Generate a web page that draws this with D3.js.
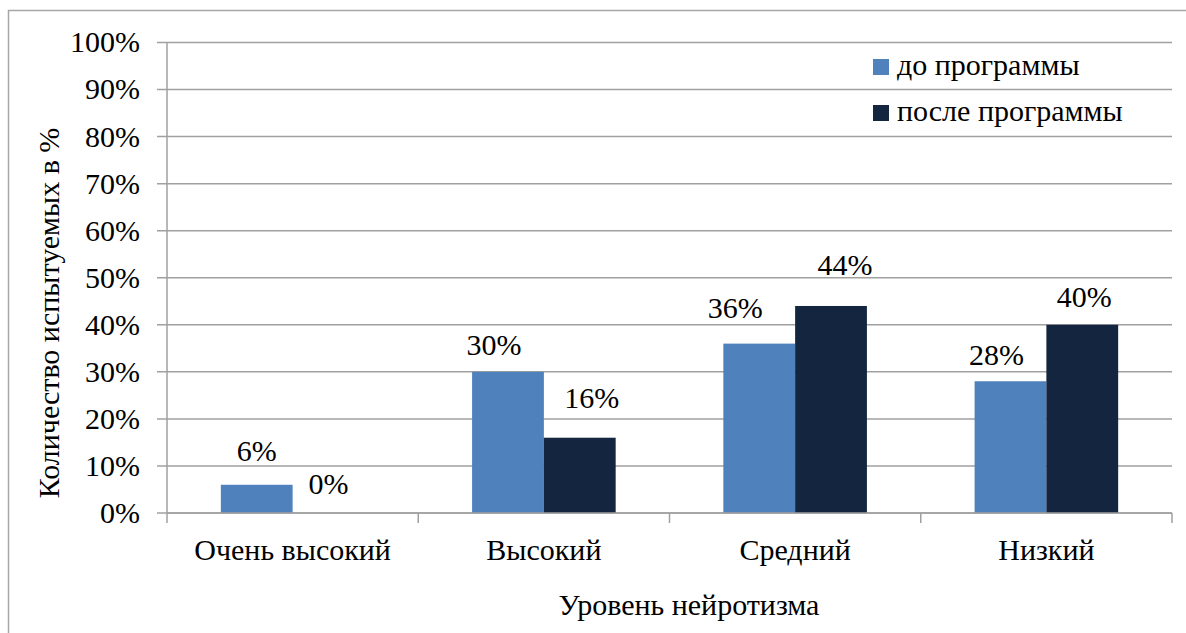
<!DOCTYPE html>
<html>
<head>
<meta charset="utf-8">
<script src="https://cdn.jsdelivr.net/npm/d3@7"></script>
<style>
  svg text { font-family: "Liberation Serif", "Tinos", "Times New Roman", "DejaVu Serif" !important; }
</style>
</head>
<body style="margin:0; background:#fff">
<div id="mainDiv"></div>
<script>
// Data
let categories = ["Очень высокий", "Высокий", "Средний", "Низкий"];
let seriesNames = ["до программы", "после программы"];
let beforeValues = [6, 30, 36, 28];
let afterValues = [0, 16, 44, 40];
let yTicks = [0, 10, 20, 30, 40, 50, 60, 70, 80, 90, 100];

// manual label nudges (dx, dy above bar top), like in the original
let labelNudges = [
  [[0, 24], [0, 19]],
  [[-14, 17], [12, 30]],
  [[-24, 26], [14, 31]],
  [[-14, 16], [2, 18]]
];

let colors = ["#4f81bd", "#13253f"];
let gridColor = "#a0a0a0";
let fontSize = 30;

let chartSize = {
  width: 1186,
  height: 633,
  margin: { top: 42.5, right: 14, bottom: 120, left: 167 }
};

createChart();

function serifText(sel) {
  return sel
    .attr("font-family", "Liberation Serif")
    .attr("font-size", fontSize)
    .attr("fill", "#000");
}

function createChart() {
  let plotBottom = chartSize.height - chartSize.margin.bottom;
  let plotRight = chartSize.width - chartSize.margin.right;

  const svg = d3.select("#mainDiv")
    .append("svg")
    .attr("width", chartSize.width)
    .attr("height", chartSize.height)
    .style("display", "block");

  // outer frame (right and bottom edges fall outside the picture)
  svg.append("rect")
    .attr("x", 8.5).attr("y", 10.5)
    .attr("width", 1300).attr("height", 800)
    .attr("fill", "none")
    .attr("stroke", "#a6a6a6")
    .attr("stroke-width", 1.5);

  let x0 = d3.scaleBand()
    .domain(categories)
    .range([chartSize.margin.left, plotRight])
    .padding(0);

  let bw = x0.bandwidth();
  let x1 = d3.scaleBand()
    .domain(seriesNames)
    .range([bw * 0.75 / 3.5, bw * 2.75 / 3.5])
    .padding(0);

  let y = d3.scaleLinear()
    .domain([0, 100])
    .range([plotBottom, chartSize.margin.top]);

  // gridlines with small ticks to the left
  svg.append("g")
    .selectAll("line")
    .data(yTicks)
    .join("line")
    .attr("x1", chartSize.margin.left - 10)
    .attr("x2", plotRight)
    .attr("y1", d => y(d))
    .attr("y2", d => y(d))
    .attr("stroke", gridColor)
    .attr("stroke-width", 1.5);

  svg.append("g")
    .selectAll("text")
    .data(yTicks)
    .join("text")
    .call(serifText)
    .attr("x", 140)
    .attr("y", d => y(d))
    .attr("dy", "0.33em")
    .attr("text-anchor", "end")
    .text(d => d + "%");

  // bars
  let groups = svg.append("g")
    .selectAll("g")
    .data(categories)
    .join("g")
    .attr("transform", d => `translate(${x0(d)},0)`);

  groups.selectAll("rect")
    .data((d, i) => [
      { s: seriesNames[0], v: beforeValues[i], k: 0 },
      { s: seriesNames[1], v: afterValues[i], k: 1 }
    ])
    .join("rect")
    .attr("x", d => x1(d.s))
    .attr("y", d => y(d.v))
    .attr("width", x1.bandwidth())
    .attr("height", d => y(0) - y(d.v))
    .attr("fill", d => colors[d.k]);

  // value labels
  groups.selectAll("text")
    .data((d, i) => [
      { s: seriesNames[0], v: beforeValues[i], n: labelNudges[i][0] },
      { s: seriesNames[1], v: afterValues[i], n: labelNudges[i][1] }
    ])
    .join("text")
    .call(serifText)
    .attr("x", d => x1(d.s) + x1.bandwidth() / 2 + d.n[0])
    .attr("y", d => y(d.v) - d.n[1])
    .attr("text-anchor", "middle")
    .text(d => d.v + "%");

  // category labels
  svg.append("g")
    .selectAll("text")
    .data(categories)
    .join("text")
    .call(serifText)
    .attr("x", d => x0(d) + bw / 2)
    .attr("y", 560)
    .attr("text-anchor", "middle")
    .text(d => d);

  // axis lines and category boundary ticks
  let axisLines = svg.append("g").attr("stroke", gridColor).attr("stroke-width", 1.5);
  axisLines.append("line")
    .attr("x1", chartSize.margin.left).attr("x2", plotRight)
    .attr("y1", plotBottom).attr("y2", plotBottom);
  axisLines.append("line")
    .attr("x1", chartSize.margin.left).attr("x2", chartSize.margin.left)
    .attr("y1", chartSize.margin.top).attr("y2", plotBottom + 10);
  axisLines.selectAll(".bt")
    .data(categories)
    .join("line")
    .attr("class", "bt")
    .attr("x1", d => x0(d) + bw)
    .attr("x2", d => x0(d) + bw)
    .attr("y1", plotBottom)
    .attr("y2", plotBottom + 10);

  // axis titles
  svg.append("text")
    .call(serifText)
    .attr("x", 689)
    .attr("y", 615)
    .attr("text-anchor", "middle")
    .text("Уровень нейротизма");

  svg.append("text")
    .call(serifText)
    .attr("transform", "translate(59,313) rotate(-90)")
    .attr("text-anchor", "middle")
    .text("Количество испытуемых в %");

  // legend
  let legend = svg.append("g")
    .selectAll("g")
    .data(seriesNames)
    .join("g")
    .attr("transform", (d, i) => `translate(873,${59 + i * 46})`);

  legend.append("rect")
    .attr("width", 16).attr("height", 16)
    .attr("fill", (d, i) => colors[i]);

  legend.append("text")
    .call(serifText)
    .attr("x", 24)
    .attr("y", 16)
    .text(d => d);

  return svg.node();
}
</script>
</body>
</html>
